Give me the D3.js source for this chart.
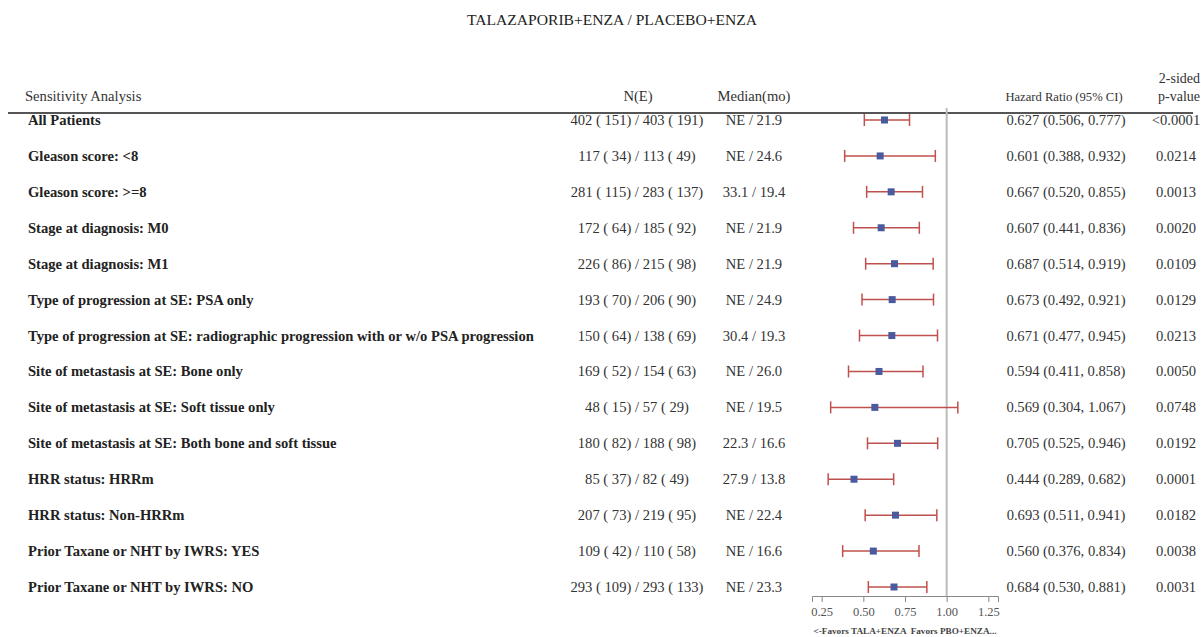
<!DOCTYPE html>
<html>
<head>
<meta charset="utf-8">
<script src="https://cdn.jsdelivr.net/npm/d3@7"></script>
<style>
  body { margin: 0; background: #fff; }
  text { font-family: "Liberation Serif", "Times New Roman", serif; }
</style>
</head>
<body>
<div id="chart"></div>
<script>
// Data
const labels = [
    "All Patients",
    "Gleason score: <8",
    "Gleason score: >=8",
    "Stage at diagnosis: M0",
    "Stage at diagnosis: M1",
    "Type of progression at SE: PSA only",
    "Type of progression at SE: radiographic progression with or w/o PSA progression",
    "Site of metastasis at SE: Bone only",
    "Site of metastasis at SE: Soft tissue only",
    "Site of metastasis at SE: Both bone and soft tissue",
    "HRR status: HRRm",
    "HRR status: Non-HRRm",
    "Prior Taxane or NHT by IWRS: YES",
    "Prior Taxane or NHT by IWRS: NO"
];
const nEvents = [
    "402 ( 151) / 403 ( 191)",
    "117 ( 34) / 113 ( 49)",
    "281 ( 115) / 283 ( 137)",
    "172 ( 64) / 185 ( 92)",
    "226 ( 86) / 215 ( 98)",
    "193 ( 70) / 206 ( 90)",
    "150 ( 64) / 138 ( 69)",
    "169 ( 52) / 154 ( 63)",
    "48 ( 15) / 57 ( 29)",
    "180 ( 82) / 188 ( 98)",
    "85 ( 37) / 82 ( 49)",
    "207 ( 73) / 219 ( 95)",
    "109 ( 42) / 110 ( 58)",
    "293 ( 109) / 293 ( 133)"
];
const medians = [
    "NE / 21.9", "NE / 24.6", "33.1 / 19.4", "NE / 21.9", "NE / 21.9",
    "NE / 24.9", "30.4 / 19.3", "NE / 26.0", "NE / 19.5", "22.3 / 16.6",
    "27.9 / 13.8", "NE / 22.4", "NE / 16.6", "NE / 23.3"
];
const hr = [0.627, 0.601, 0.667, 0.607, 0.687, 0.673, 0.671, 0.594, 0.569, 0.705, 0.444, 0.693, 0.560, 0.684];
const lower = [0.506, 0.388, 0.520, 0.441, 0.514, 0.492, 0.477, 0.411, 0.304, 0.525, 0.289, 0.511, 0.376, 0.530];
const upper = [0.777, 0.932, 0.855, 0.836, 0.919, 0.921, 0.945, 0.858, 1.067, 0.946, 0.682, 0.941, 0.834, 0.881];
const pValues = ["<0.0001", "0.0214", "0.0013", "0.0020", "0.0109", "0.0129", "0.0213",
    "0.0050", "0.0748", "0.0192", "0.0001", "0.0182", "0.0038", "0.0031"];
const ticks = [0.25, 0.5, 0.75, 1.0, 1.25];

const rows = labels.map((d, i) => ({
    label: d, n: nEvents[i], med: medians[i],
    hr: hr[i], lo: lower[i], hi: upper[i], p: pValues[i]
}));

const width = 1201;
const height = 637;
const fs = "14.6px";

const svg = d3.select("#chart")
    .append("svg")
    .attr("width", width)
    .attr("height", height);

// Scales
const xScale = d3.scaleLinear().domain([0.192, 1.308]).range([812, 998]);
const yScale = d3.scalePoint().domain(labels).range([120, 587]);
const axisY = 596;

// Title
svg.append("text")
    .attr("x", 612)
    .attr("y", 25)
    .attr("text-anchor", "middle")
    .style("font-size", "15.6px")
    .style("fill", "#222")
    .text("TALAZAPORIB+ENZA / PLACEBO+ENZA");

// Column headers
const headerColor = "#333";
svg.append("text").attr("x", 25).attr("y", 101)
    .style("font-size", fs).style("fill", headerColor)
    .text("Sensitivity Analysis");
svg.append("text").attr("x", 638).attr("y", 101).attr("text-anchor", "middle")
    .style("font-size", fs).style("fill", headerColor).text("N(E)");
svg.append("text").attr("x", 754).attr("y", 101).attr("text-anchor", "middle")
    .style("font-size", fs).style("fill", headerColor).text("Median(mo)");
svg.append("text").attr("x", 1064).attr("y", 101).attr("text-anchor", "middle")
    .style("font-size", "12.6px").style("fill", headerColor).text("Hazard Ratio (95% CI)");
svg.append("text").attr("x", 1200).attr("y", 83).attr("text-anchor", "end")
    .style("font-size", "14px").style("fill", headerColor).text("2-sided");
svg.append("text").attr("x", 1200).attr("y", 101).attr("text-anchor", "end")
    .style("font-size", "14px").style("fill", headerColor).text("p-value");

// Header rule
svg.append("line")
    .attr("x1", 8).attr("x2", 1193)
    .attr("y1", 113).attr("y2", 113)
    .attr("stroke", "#555")
    .attr("stroke-width", 2);

// Reference line at HR = 1
svg.append("line")
    .attr("x1", xScale(1)).attr("x2", xScale(1))
    .attr("y1", 108).attr("y2", axisY)
    .attr("stroke", "#bbb")
    .attr("stroke-width", 2);

// Axis
const axis = svg.append("g")
    .attr("transform", `translate(0, ${axisY})`)
    .call(d3.axisBottom(xScale).tickValues(ticks).tickFormat(d3.format(".2f")).tickSizeOuter(0).tickSize(6));
axis.select(".domain").attr("stroke", "#888");
axis.selectAll(".tick line").attr("stroke", "#888");
axis.selectAll(".tick text")
    .style("font-family", "'Liberation Serif', serif")
    .style("font-size", "12.5px")
    .style("fill", "#555")
    .attr("dy", "0.85em");

svg.append("text")
    .attr("x", 905)
    .attr("y", 634)
    .attr("text-anchor", "middle")
    .style("font-size", "9.2px")
    .style("font-weight", "bold")
    .style("fill", "#444")
    .style("white-space", "pre")
    .text("<-Favors TALA+ENZA  Favors PBO+ENZA...");

// Table text
const rowG = svg.selectAll(".row")
    .data(rows)
    .enter()
    .append("g")
    .attr("class", "row")
    .attr("transform", (d) => `translate(0, ${yScale(d.label)})`);

rowG.append("text").attr("x", 28).attr("y", 5)
    .style("font-size", fs).style("font-weight", "bold").style("fill", "#222")
    .text((d) => d.label);
rowG.append("text").attr("x", 637).attr("y", 5).attr("text-anchor", "middle")
    .style("font-size", fs).style("fill", "#333")
    .text((d) => d.n);
rowG.append("text").attr("x", 754).attr("y", 5).attr("text-anchor", "middle")
    .style("font-size", fs).style("fill", "#333")
    .text((d) => d.med);
rowG.append("text").attr("x", 1066).attr("y", 5).attr("text-anchor", "middle")
    .style("font-size", fs).style("fill", "#333")
    .text((d) => `${d.hr.toFixed(3)} (${d.lo.toFixed(3)}, ${d.hi.toFixed(3)})`);
rowG.append("text").attr("x", 1176).attr("y", 5).attr("text-anchor", "middle")
    .style("font-size", fs).style("fill", "#333")
    .text((d) => d.p);

// Error bars
const barColor = "#c0504d";
rowG.append("line")
    .attr("x1", (d) => xScale(d.lo)).attr("x2", (d) => xScale(d.hi))
    .attr("y1", 0).attr("y2", 0)
    .attr("stroke", barColor).attr("stroke-width", 1.5);
rowG.append("line")
    .attr("x1", (d) => xScale(d.lo)).attr("x2", (d) => xScale(d.lo))
    .attr("y1", -6).attr("y2", 6)
    .attr("stroke", barColor).attr("stroke-width", 1.5);
rowG.append("line")
    .attr("x1", (d) => xScale(d.hi)).attr("x2", (d) => xScale(d.hi))
    .attr("y1", -6).attr("y2", 6)
    .attr("stroke", barColor).attr("stroke-width", 1.5);

// Point estimates
rowG.append("rect")
    .attr("x", (d) => xScale(d.hr) - 3.5)
    .attr("y", -3.5)
    .attr("width", 7)
    .attr("height", 7)
    .attr("fill", "#4a5a9e");
</script>
</body>
</html>
